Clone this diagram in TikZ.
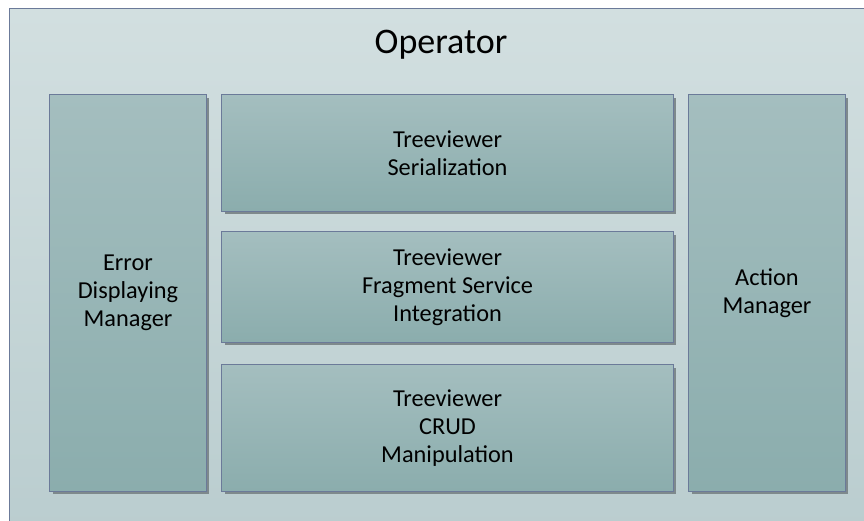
\documentclass[tikz,border=0pt]{standalone}
\usepackage{fontspec}
\setmainfont{Carlito}
\usetikzlibrary{shadows}
\definecolor{opframe}{RGB}{107,122,153}
\definecolor{optop}{RGB}{210,223,224}
\definecolor{opbottom}{RGB}{186,205,207}
\definecolor{modtop}{RGB}{164,190,191}
\definecolor{modbottom}{RGB}{139,173,173}
\definecolor{modshadow}{RGB}{126,137,140}

\tikzset{
  module/.style={draw=opframe, line width=0.7pt, top color=modtop, bottom color=modbottom,
    align=center, inner sep=0pt, font=\fontsize{17.3}{19.8}\selectfont,
    drop shadow={shadow xshift=2.2pt, shadow yshift=-2.2pt, fill=modshadow, opacity=1}},
  tallmodule/.style={module, minimum width=3.9cm, minimum height=9.9cm},
  widemodule/.style={module, minimum width=11.275cm},
}

\begin{document}
\begin{tikzpicture}[x=0.025cm, y=-0.025cm]
\useasboundingbox (0,0) rectangle (864,521);
% outer frame, runs off the page on the right and bottom
\node[draw=opframe, line width=0.7pt, top color=optop, bottom color=opbottom, anchor=north west,
  minimum width=21.525cm, minimum height=13.05cm, inner sep=0pt] (operator) at (9,8) {};
\node[font=\fontsize{25.6}{30}\selectfont] (title) at (441,45) {Operator};

\node[tallmodule] (errmgr) at (128,293) {Error\\Displaying\\Manager};
\node[widemodule, minimum height=2.9cm] (serial) at (447.5,153) {Treeviewer\\Serialization};
\node[widemodule, minimum height=2.75cm] (fragment) at (447.5,287) {Treeviewer\\Fragment Service\\Integration};
\node[widemodule, minimum height=3.15cm] (crud) at (447.5,428) {Treeviewer\\CRUD\\Manipulation};
\node[tallmodule] (actmgr) at (767,293) {Action\\Manager};
\end{tikzpicture}
\end{document}
